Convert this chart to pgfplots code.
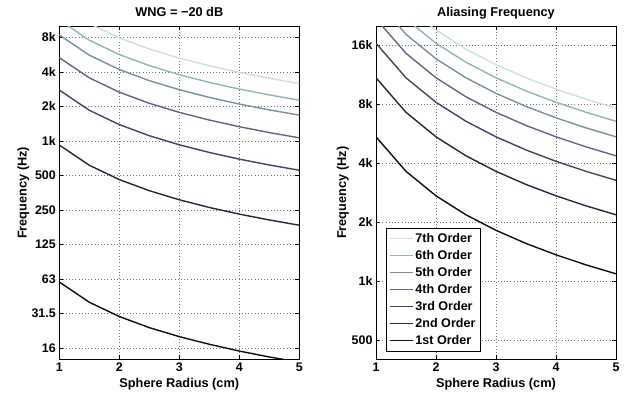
\documentclass[border=0pt]{standalone}
\usepackage{fontspec}
\setmainfont{Liberation Sans}
\usepackage{pgfplots}
\pgfplotsset{compat=1.18}
\definecolor{cA}{rgb}{0.05,0.05,0.07}
\definecolor{cB}{rgb}{0.14,0.14,0.24}
\definecolor{cC}{rgb}{0.25,0.26,0.40}
\definecolor{cD}{rgb}{0.36,0.40,0.52}
\definecolor{cE}{rgb}{0.47,0.56,0.62}
\definecolor{cF}{rgb}{0.56,0.71,0.72}
\definecolor{cG}{rgb}{0.80,0.88,0.88}
\pgfplotsset{
  mycommon/.style={
    scale only axis, width=240bp, height=333bp,
    xmin=1, xmax=5,
    xtick={1,2,3,4,5}, xticklabels={1,2,3,4,5},
    grid=major, major grid style={dash pattern=on 0.8bp off 2.4bp, black!55, line width=0.5bp},
    tick align=inside, tick pos=both, major tick length=4bp,
    yminorticks=false, xminorticks=false,
    axis line style={line width=0.9bp},
    every tick/.style={black, line width=0.6bp},
    ticklabel style={font=\fontsize{12.5}{14}\selectfont\bfseries},
    xlabel style={font=\fontsize{12.8}{15}\selectfont\bfseries, at={(0.5,0)}, anchor=base, yshift=-28.7bp},
    title style={font=\fontsize{12.8}{15}\selectfont\bfseries, at={(0.5,1)}, anchor=base, yshift=4bp},
    xlabel={Sphere Radius (cm)}, ylabel={Frequency (Hz)},
    every axis plot/.append style={no markers, line width=1.4bp},
    clip=true,
  }
}
\begin{document}
\begin{tikzpicture}
\begin{axis}[ymode=log, mycommon, at={(59.3bp,36.7bp)}, anchor=south west,
  title={WNG = −20 dB},
  ymin=12.5, ymax=10000,
  ytick={15.625,31.25,62.5,125,250,500,1000,2000,4000,8000},
  yticklabels={16,31.5,63,125,250,500,1k,2k,4k,8k},
  ylabel style={font=\fontsize{12.8}{15}\selectfont\bfseries, at={(axis description cs:-0.136,0.5)}, anchor=base},
]
\addplot[cA] coordinates {(1,59) (1.5,39.3) (2,29.5) (2.5,23.6) (3,19.7) (3.5,16.9) (4,14.75) (4.5,13.1) (5,11.8)};
\addplot[cB] coordinates {(1,922) (1.5,614.7) (2,461) (2.5,368.8) (3,307.3) (3.5,263.4) (4,230.5) (4.5,204.9) (5,184.4)};
\addplot[cC] coordinates {(1,2780) (1.5,1853) (2,1390) (2.5,1112) (3,926.7) (3.5,794.3) (4,695) (4.5,617.8) (5,556)};
\addplot[cD] coordinates {(1,5330) (1.5,3553) (2,2665) (2.5,2132) (3,1777) (3.5,1523) (4,1332.5) (4.5,1184) (5,1066)};
\addplot[cE] coordinates {(1,8400) (1.5,5600) (2,4200) (2.5,3360) (3,2800) (3.5,2400) (4,2100) (4.5,1867) (5,1680)};
\addplot[cF] coordinates {(1,11350) (1.5,7567) (2,5675) (2.5,4540) (3,3783) (3.5,3243) (4,2837.5) (4.5,2522) (5,2270)};
\addplot[cG] coordinates {(1,15850) (1.5,10567) (2,7925) (2.5,6340) (3,5283) (3.5,4529) (4,3962.5) (4.5,3522) (5,3170)};
\end{axis}
\begin{axis}[ymode=log, mycommon, at={(376bp,36.7bp)}, anchor=south west,
  title={Aliasing Frequency},
  ymin=400, ymax=20000,
  ytick={500,1000,2000,4000,8000,16000},
  yticklabels={500,1k,2k,4k,8k,16k},
  ylabel style={font=\fontsize{12.8}{15}\selectfont\bfseries, at={(axis description cs:-0.125,0.5)}, anchor=base},
  legend reversed,
  legend cell align=left,
  legend style={at={(0.04,0.023)}, anchor=south west, draw=black, line width=0.9bp,
    font=\fontsize{12.6}{14}\selectfont\bfseries,
    nodes={inner ysep=3.2bp, inner xsep=2bp}, row sep=0pt},
  legend image code/.code={\draw[#1, line width=1.4bp] (0bp,0bp) -- (23bp,0bp);},
]
\addplot[cA] coordinates {(1,5459) (1.5,3639.3) (2,2729.5) (2.5,2183.6) (3,1819.7) (3.5,1559.7) (4,1364.8) (4.5,1213.1) (5,1091.8)};
\addplot[cB] coordinates {(1,10918) (1.5,7279) (2,5459) (2.5,4367) (3,3639) (3.5,3119) (4,2730) (4.5,2426) (5,2184)};
\addplot[cC] coordinates {(1,16377) (1.5,10918) (2,8189) (2.5,6551) (3,5459) (3.5,4679) (4,4094) (4.5,3639) (5,3275)};
\addplot[cD] coordinates {(1,21836) (1.5,14557) (2,10918) (2.5,8734) (3,7279) (3.5,6239) (4,5459) (4.5,4852) (5,4367)};
\addplot[cE] coordinates {(1,27295) (1.5,18197) (2,13648) (2.5,10918) (3,9098) (3.5,7799) (4,6824) (4.5,6065) (5,5459)};
\addplot[cF] coordinates {(1,32754) (1.5,21836) (2,16377) (2.5,13102) (3,10918) (3.5,9358) (4,8189) (4.5,7279) (5,6551)};
\addplot[cG] coordinates {(1,38213) (1.5,25475) (2,19107) (2.5,15285) (3,12738) (3.5,10918) (4,9553) (4.5,8491) (5,7643)};
\legend{1st Order,2nd Order,3rd Order,4th Order,5th Order,6th Order,7th Order}
\end{axis}
\pgfresetboundingbox
\path[use as bounding box] (0bp,0bp) rectangle (633bp,396bp);
\end{tikzpicture}
\end{document}
